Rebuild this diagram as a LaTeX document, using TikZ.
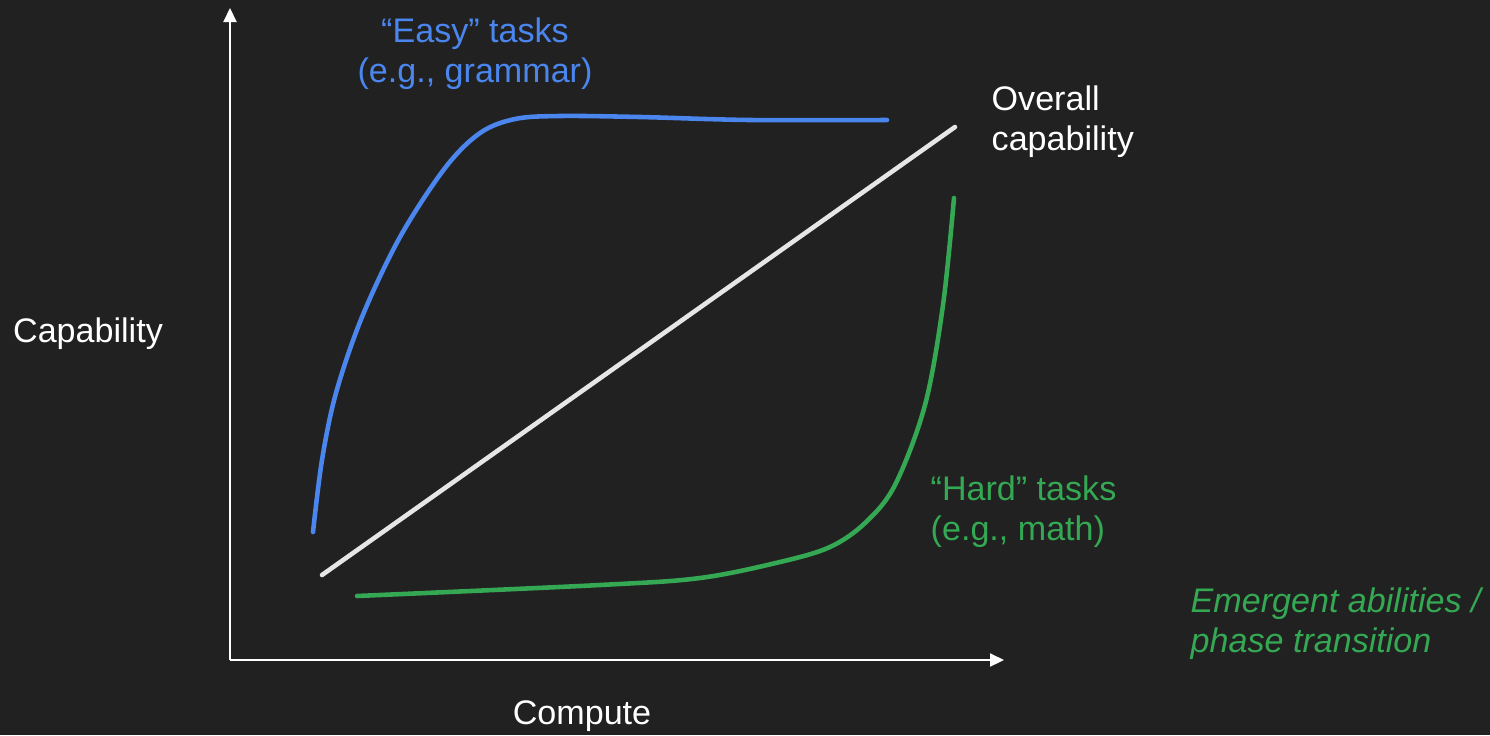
\documentclass[tikz,border=0pt]{standalone}
\usepackage{fontspec}
\setmainfont{Liberation Sans}
\usepackage{tikz}
\usetikzlibrary{arrows.meta}

\definecolor{bgdark}{HTML}{212121}
\definecolor{easyblue}{HTML}{4A86EE}
\definecolor{hardgreen}{HTML}{34A853}
\definecolor{linewhite}{HTML}{E6E6E6}

\tikzset{
  axis/.style={line width=0.6pt,white,-{Triangle[length=0.14cm,width=0.13cm]}},
  curve/.style={line width=1.3pt,line cap=round},
  lbl/.style={font=\fontsize{9.7pt}{11.4pt}\selectfont,inner sep=0pt,align=left}
}

\begin{document}
\begin{tikzpicture}
    % Background and page size
    \fill[bgdark] (0,0) rectangle (14.9,7.35);
    \useasboundingbox (0,0) rectangle (14.9,7.35);

    % Axes
    \coordinate (origin) at (2.30,0.75);
    \coordinate (ytip) at (2.30,7.27);
    \coordinate (xtip) at (10.04,0.75);
    \draw[axis] (origin) -- (ytip);
    \draw[axis] (origin) -- (xtip);

    % Easy tasks saturate early
    \draw[curve,easyblue] plot[smooth,tension=0.55] coordinates
        {(3.13,2.03) (3.22,2.75) (3.36,3.42) (3.62,4.18) (4.00,4.98) (4.45,5.67) (4.80,6.02) (5.15,6.16) (5.60,6.19) (6.40,6.18) (7.50,6.15) (8.87,6.15)};

    % Overall capability grows linearly
    \draw[curve,linewhite] (3.22,1.60) -- (9.55,6.08);

    % Hard tasks appear suddenly
    \draw[curve,hardgreen] plot[smooth,tension=0.55] coordinates
        {(3.57,1.39) (6.00,1.50) (7.00,1.57) (7.80,1.73) (8.30,1.88) (8.65,2.12) (8.95,2.50) (9.25,3.30) (9.43,4.30) (9.54,5.37)};

    % Labels
    \node[lbl,easyblue,align=center] (easy) at (4.75,6.81) {``Easy'' tasks\\(e.g., grammar)};
    \node[lbl,white,anchor=west] (overall) at (9.91,6.13) {Overall\\capability};
    \node[lbl,hardgreen,anchor=west] (hard) at (9.30,2.23) {``Hard'' tasks\\(e.g., math)};
    \node[lbl,hardgreen,anchor=west,font=\fontsize{9.7pt}{11.4pt}\selectfont\itshape] (emergent) at (11.90,1.11) {Emergent abilities /\\phase transition};
    \node[lbl,white] (ylabel) at (0.88,4.01) {Capability};
    \node[lbl,white] (xlabel) at (5.82,0.19) {Compute};
\end{tikzpicture}
\end{document}
